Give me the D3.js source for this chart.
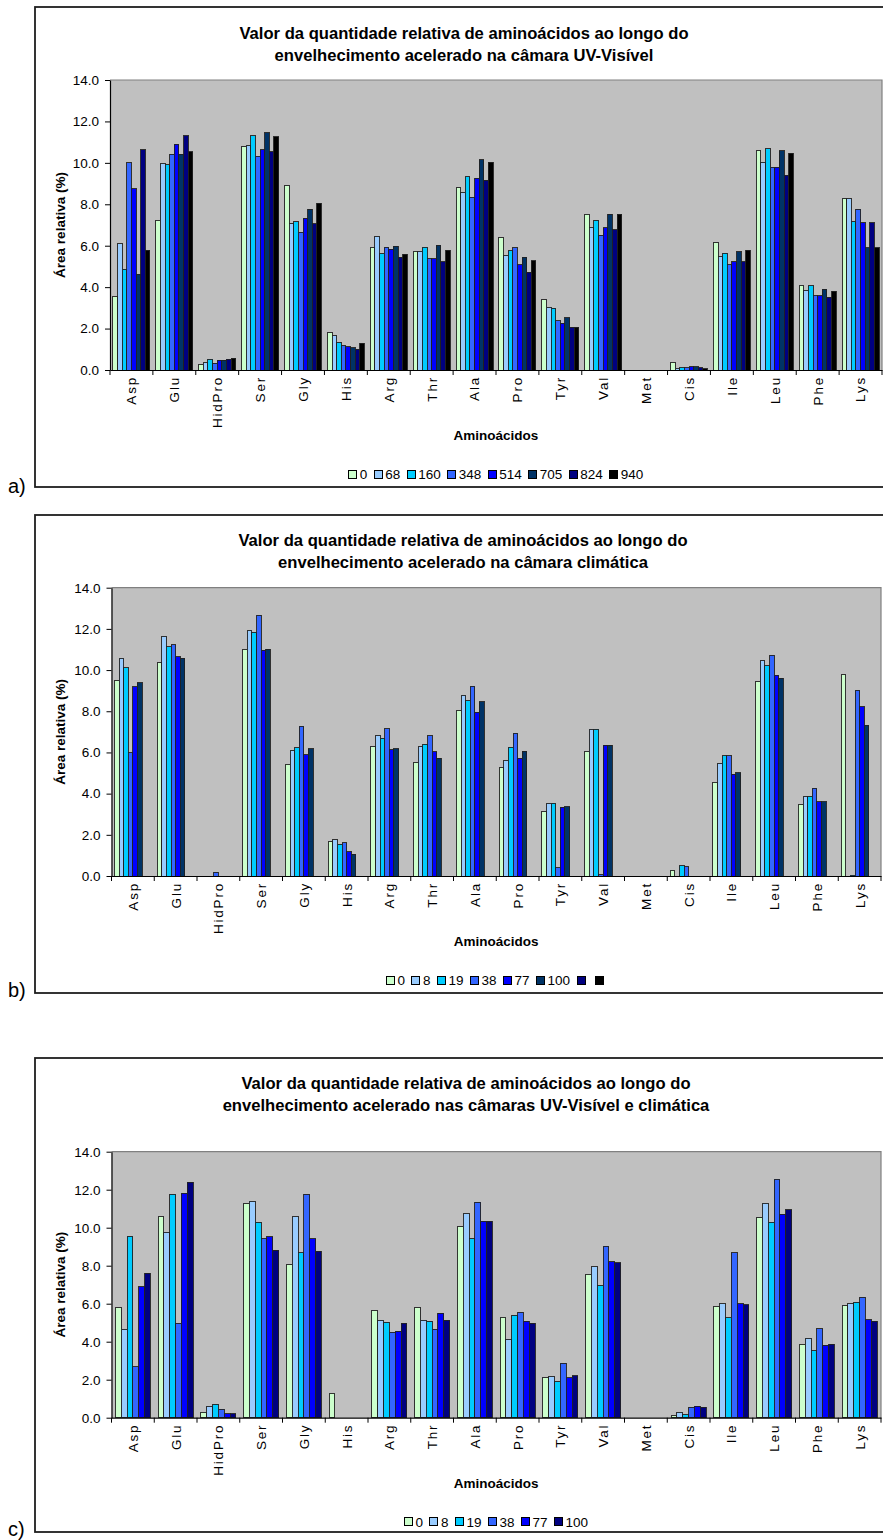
<!DOCTYPE html>
<html>
<head>
<meta charset="utf-8">
<script src="https://cdn.jsdelivr.net/npm/d3@7"></script>
<style>
  html, body { margin: 0; padding: 0; background: #fff; }
  svg { display: block; font-family: "Liberation Sans", Arial, sans-serif; }
</style>
</head>
<body>
<svg id="fig" width="883" height="1540"></svg>
<script>
// ---- data -------------------------------------------------------------
const aminoacids = ["Asp","Glu","HidPro","Ser","Gly","His","Arg","Thr","Ala",
                    "Pro","Tyr","Val","Met","Cis","Ile","Leu","Phe","Lys"];
const yTicks = [0, 2, 4, 6, 8, 10, 12, 14];

// a) UV-Visible chamber (hours of exposure)
const seriesUV = ["0","68","160","348","514","705","824","940"];
const valuesUV = [
  [3.54, 7.23, 0.27, 10.78, 8.90, 1.79, 5.89, 5.73, 8.80, 6.39, 3.40, 7.53, 0, 0.37, 6.15, 10.59, 4.09, 8.27],
  [6.10, 9.96, 0.35, 10.83, 7.06, 1.66, 6.44, 5.73, 8.56, 5.52, 3.04, 6.87, 0, 0.08, 5.47, 10.03, 3.86, 8.27],
  [4.86, 9.91, 0.51, 11.30, 7.16, 1.34, 5.62, 5.92, 9.32, 5.75, 2.98, 7.23, 0, 0.11, 5.63, 10.69, 4.06, 7.16],
  [10.01, 10.41, 0.32, 10.32, 6.65, 1.17, 5.92, 5.37, 8.33, 5.89, 2.37, 6.50, 0, 0.11, 5.07, 9.78, 3.59, 7.77],
  [8.74, 10.89, 0.47, 10.64, 7.32, 1.13, 5.83, 5.37, 9.25, 5.07, 2.25, 6.87, 0, 0.16, 5.23, 9.78, 3.59, 7.11],
  [4.62, 10.41, 0.47, 11.46, 7.76, 1.08, 5.97, 6.03, 10.14, 5.44, 2.53, 7.53, 0, 0.16, 5.70, 10.59, 3.89, 5.89],
  [10.64, 11.30, 0.51, 10.54, 7.06, 1.00, 5.44, 5.23, 9.16, 4.72, 2.06, 6.76, 0, 0.11, 5.23, 9.41, 3.51, 7.11],
  [5.79, 10.54, 0.56, 11.25, 8.05, 1.29, 5.58, 5.78, 10.03, 5.28, 2.06, 7.53, 0, 0.05, 5.79, 10.46, 3.80, 5.89]
];

// b) climatic chamber (days); the last two legend slots carry no data
const seriesClim = ["0","8","19","38","77","100","",""];
const valuesClim = [
  [9.48, 10.36, 0, 11.02, 5.42, 1.67, 6.28, 5.52, 8.04, 5.26, 3.11, 6.05, 0, 0.29, 4.55, 9.44, 3.48, 9.77],
  [10.57, 11.64, 0, 11.90, 6.08, 1.76, 6.80, 6.28, 8.77, 5.63, 3.53, 7.12, 0, 0, 5.47, 10.45, 3.84, 0],
  [10.11, 11.13, 0, 11.83, 6.22, 1.54, 6.70, 6.39, 8.50, 6.25, 3.53, 7.12, 0, 0.50, 5.84, 10.20, 3.88, 0.04],
  [5.99, 11.22, 0.19, 12.66, 7.27, 1.62, 7.15, 6.80, 9.22, 6.93, 0.39, 0.05, 0, 0.45, 5.84, 10.71, 4.26, 9.01],
  [9.18, 10.65, 0, 10.97, 5.89, 1.17, 6.13, 6.04, 7.95, 5.73, 3.33, 6.36, 0, 0, 4.95, 9.74, 3.61, 8.21],
  [9.39, 10.57, 0, 11.02, 6.18, 1.05, 6.18, 5.73, 8.45, 6.05, 3.37, 6.36, 0, 0, 5.02, 9.60, 3.61, 7.31],
  [],
  []
];

// c) UV-Visible and climatic chambers combined
const seriesBoth = ["0","8","19","38","77","100"];
const valuesBoth = [
  [5.79, 10.58, 0.30, 11.25, 8.05, 1.30, 5.63, 5.79, 10.04, 5.30, 2.10, 7.54, 0, 0.10, 5.86, 10.53, 3.86, 5.89],
  [4.65, 9.75, 0.60, 11.40, 10.58, 0, 5.12, 5.12, 10.74, 4.12, 2.15, 7.95, 0, 0.30, 6.00, 11.30, 4.18, 6.00],
  [9.54, 11.75, 0.70, 10.30, 8.67, 0, 5.02, 5.07, 9.42, 5.39, 1.90, 6.95, 0, 0.15, 5.25, 10.30, 3.53, 6.07],
  [2.68, 4.96, 0.45, 9.42, 11.75, 0, 4.51, 4.65, 11.35, 5.56, 2.86, 9.02, 0, 0.55, 8.67, 12.56, 4.68, 6.33],
  [6.89, 11.81, 0.20, 9.53, 9.42, 0, 4.56, 5.51, 10.35, 5.07, 2.10, 8.21, 0, 0.60, 6.00, 10.70, 3.81, 5.16],
  [7.60, 12.40, 0.20, 8.82, 8.77, 0, 4.96, 5.12, 10.35, 4.96, 2.20, 8.16, 0, 0.55, 5.95, 10.95, 3.86, 5.07]
];

// ---- styling ------------------------------------------------------------
const palette8 = ["#CCFFCC","#99CCFF","#00CCFF","#3366FF","#0000FF","#003366","#000080","#000000"];
const palette6 = ["#CCFFCC","#99CCFF","#00CCFF","#3366FF","#0000FF","#000080"];

const panels = [
  { tag: "a)", series: seriesUV, values: valuesUV, colors: palette8,
    title: ["Valor da quantidade relativa de aminoácidos ao longo do",
            "envelhecimento acelerado na câmara UV-Visível"],
    frame: { top: 7, bottom: 487 }, plot: { left: 110, right: 882, top: 80, bottom: 370 },
    titleX: 464, titleBase: 60.5, tagBase: 493 },
  { tag: "b)", series: seriesClim, values: valuesClim, colors: palette8,
    title: ["Valor da quantidade relativa de aminoácidos ao longo do",
            "envelhecimento acelerado na câmara climática"],
    frame: { top: 515, bottom: 993 }, plot: { left: 111.5, right: 881, top: 587.7, bottom: 876 },
    titleX: 463, titleBase: 567.7, tagBase: 997 },
  { tag: "c)", series: seriesBoth, values: valuesBoth, colors: palette6,
    title: ["Valor da quantidade relativa de aminoácidos ao longo do",
            "envelhecimento acelerado nas câmaras UV-Visível e climática"],
    frame: { top: 1058, bottom: 1532 }, plot: { left: 111.5, right: 881, top: 1151.7, bottom: 1417.7 },
    titleX: 466, titleBase: 1111, tagBase: 1536 }
];

const svg = d3.select("#fig");

function drawPanel(p) {
  const g = svg.append("g");
  const { left, right, top, bottom } = p.plot;

  // outer chart frame (runs past the right edge of the page)
  g.append("rect")
    .attr("x", 35).attr("y", p.frame.top)
    .attr("width", 852).attr("height", p.frame.bottom - p.frame.top)
    .attr("fill", "none").attr("stroke", "#1e1e1e").attr("stroke-width", 1.8);

  // panel tag
  g.append("text").attr("x", 8).attr("y", p.tagBase)
    .attr("font-size", 20).attr("fill", "#000").text(p.tag);

  // title
  g.selectAll("text.title").data(p.title).join("text")
    .attr("class", "title")
    .attr("x", p.titleX)
    .attr("y", (d, i) => p.titleBase - (p.title.length - 1 - i) * 21.7)
    .attr("text-anchor", "middle").attr("font-size", 16.6).attr("font-weight", "bold")
    .attr("fill", "#000").text(d => d);

  // scales
  const x0 = d3.scaleBand().domain(aminoacids).range([left, right]).padding(0);
  const x1 = d3.scaleBand().domain(d3.range(p.series.length))
    .range([0, x0.bandwidth()]).paddingInner(0).paddingOuter(0.65);
  const y = d3.scaleLinear().domain([0, 14]).range([bottom, top]);

  // plot area
  g.append("rect").attr("x", left).attr("y", top)
    .attr("width", right - left).attr("height", bottom - top)
    .attr("fill", "#C0C0C0");
  g.append("path").attr("d", `M${left},${top}H${right}V${bottom}`)
    .attr("fill", "none").attr("stroke", "#808080").attr("stroke-width", 1.2);

  // bars
  const flat = [];
  p.values.forEach((row, si) => row.forEach((v, ci) => { if (v > 0) flat.push({ si, ci, v }); }));
  g.append("g").selectAll("rect").data(flat).join("rect")
    .attr("x", d => x0(aminoacids[d.ci]) + x1(d.si))
    .attr("y", d => y(d.v))
    .attr("width", x1.bandwidth())
    .attr("height", d => y(0) - y(d.v))
    .attr("fill", d => p.colors[d.si])
    .attr("stroke", "#202020").attr("stroke-width", 0.9)
    .attr("shape-rendering", "crispEdges");

  // y axis
  const yAxis = d3.axisLeft(y).tickValues(yTicks).tickFormat(d3.format(".1f"))
    .tickSize(5).tickSizeOuter(0).tickPadding(6);
  const gy = g.append("g").attr("transform", `translate(${left},0)`).call(yAxis);
  gy.select(".domain").attr("stroke", "#000").attr("stroke-width", 1.2);
  gy.selectAll(".tick line").attr("stroke", "#000");
  gy.selectAll(".tick text").attr("font-size", 13.5).attr("fill", "#000")
    .attr("font-family", '"Liberation Sans", Arial, sans-serif');

  // x axis: labels at category centres, ticks on category boundaries
  const xAxis = d3.axisBottom(x0).tickSize(0).tickSizeOuter(0);
  const gx = g.append("g").attr("transform", `translate(0,${bottom})`).call(xAxis);
  gx.select(".domain").attr("stroke", "#000").attr("stroke-width", 1.2);
  gx.selectAll(".tick text")
    .attr("transform", "rotate(-90)")
    .attr("text-anchor", "end")
    .attr("x", -6).attr("y", 0).attr("dy", "0.36em")
    .attr("font-size", 13.5).attr("letter-spacing", 1.8).attr("fill", "#000")
    .attr("font-family", '"Liberation Sans", Arial, sans-serif');
  const bounds = aminoacids.map(c => x0(c)).concat([x0.range()[1]]);
  gx.selectAll("line.bound").data(bounds).join("line")
    .attr("class", "bound")
    .attr("x1", d => d).attr("x2", d => d).attr("y1", 0).attr("y2", 5)
    .attr("stroke", "#000");

  // axis titles
  g.append("text")
    .attr("transform", `translate(60.5,${(top + bottom) / 2}) rotate(-90)`)
    .attr("text-anchor", "middle").attr("dy", "0.35em")
    .attr("font-size", 13.5).attr("font-weight", "bold").attr("fill", "#000")
    .text("Área relativa (%)");
  g.append("text")
    .attr("x", (left + right) / 2).attr("y", bottom + 70)
    .attr("text-anchor", "middle")
    .attr("font-size", 13.5).attr("font-weight", "bold").attr("fill", "#000")
    .text("Aminoácidos");

  // legend
  const lg = g.append("g");
  const sw = 8, g1 = 3, g2 = 7;
  const items = lg.selectAll("g").data(p.series).join("g");
  items.append("rect").attr("width", sw).attr("height", sw)
    .attr("fill", (d, i) => p.colors[i]).attr("stroke", "#000").attr("stroke-width", 1)
    .attr("shape-rendering", "crispEdges");
  items.append("text").attr("x", sw + g1).attr("y", sw / 2).attr("dy", "0.36em")
    .attr("font-size", 13.5).attr("fill", "#000").text(d => d);
  let cx = 0;
  const offsets = [];
  items.each(function () {
    offsets.push(cx);
    const w = d3.select(this).select("text").node().getComputedTextLength();
    cx += sw + g1 + w + g2;
  });
  const total = cx - g2;
  const lx = (left + right) / 2 - total / 2;
  const ly = bottom + 104 - sw / 2;
  items.attr("transform", (d, i) => `translate(${lx + offsets[i]},${ly})`);
}

panels.forEach(drawPanel);
</script>
</body>
</html>
